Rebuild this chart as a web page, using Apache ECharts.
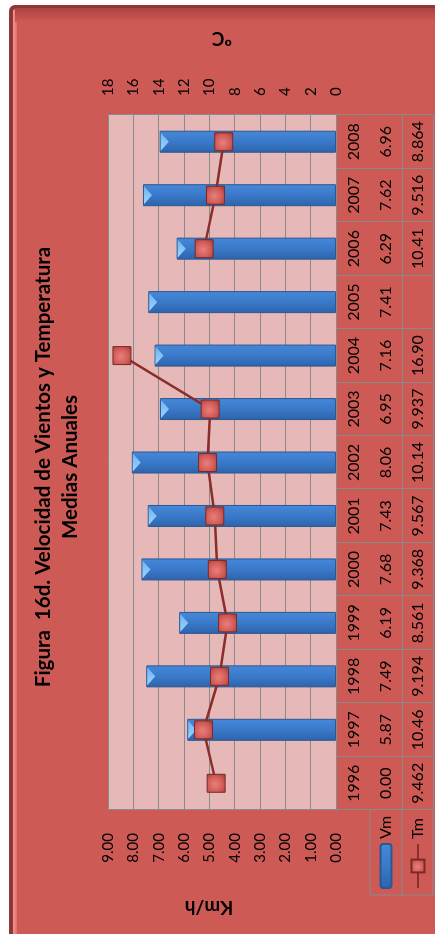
<!DOCTYPE html>
<html><head><meta charset="utf-8">
<script src="https://cdn.jsdelivr.net/npm/echarts@6/dist/echarts.min.js"></script>
<style>
html,body{margin:0;padding:0;background:#fff;overflow:hidden;width:435px;height:934px;}
#wrap{position:absolute;left:0;top:0;width:934px;height:435px;transform-origin:0 0;transform:translateY(934px) rotate(-90deg);}
#chart{width:934px;height:435px;}
</style></head><body>
<div id="wrap"><div id="chart"></div></div>
<script>
// ---- data ----
const years = ['1996','1997','1998','1999','2000','2001','2002','2003','2004','2005','2006','2007','2008'];
const vm = [0.00, 5.87, 7.49, 6.19, 7.68, 7.43, 8.06, 6.95, 7.16, 7.41, 6.29, 7.62, 6.96];
const tm = [9.462, 10.46, 9.194, 8.561, 9.368, 9.567, 10.14, 9.937, 16.90, null, 10.41, 9.516, 8.864];
const titleText = 'Figura  16d. Velocidad de Vientos y Temperatura\nMedias Anuales';
const leftAxisName = 'Km/h';
const rightAxisName = 'ºC';
const seriesNames = ['Vm', 'Tm'];

const FONT = 'Lato';
const GREY = '#8a8a8a';
const BG = '#ce5a56';

const chart = echarts.init(document.getElementById('chart'), null, {renderer: 'canvas'});
const G = echarts.graphic;

const barColor = new G.LinearGradient(0, 0, 1, 0, [
  {offset: 0, color: '#2d63aa'}, {offset: 0.5, color: '#3a79ca'}, {offset: 1, color: '#4788d8'}]);
const capColor = new G.LinearGradient(0, 0, 1, 0, [
  {offset: 0, color: '#6fb2ee'}, {offset: 1, color: '#9dd6ff'}]);
const markColor = new G.RadialGradient(0.45, 0.45, 0.7, [
  {offset: 0, color: '#ea7f7a'}, {offset: 0.6, color: '#d05a56'}, {offset: 1, color: '#a23c39'}]);

const tableAxis = (offset, tickLen, formatter, margin, showLabel) => ({
  type: 'category', data: years, position: 'bottom', offset: offset,
  axisLine: {show: true, lineStyle: {color: GREY, width: 1}},
  axisTick: {show: tickLen > 0, length: tickLen, interval: 0, alignWithLabel: false, lineStyle: {color: GREY, width: 1}},
  axisLabel: {show: showLabel, interval: 0, margin: margin, fontSize: 16, color: '#000', fontFamily: FONT, formatter: formatter},
  splitLine: {show: false}
});

chart.setOption({
  animation: false,
  backgroundColor: '#ffffff',
  title: {
    text: titleText, left: 'center', top: 30, padding: 0,
    textStyle: {fontSize: 20.5, fontWeight: 'bold', lineHeight: 27, color: '#000', fontFamily: FONT}
  },
  legend: [
    {data: [seriesNames[0]], left: 45, top: 378, padding: 0, itemWidth: 44, itemHeight: 11, selectedMode: false,
     textStyle: {fontSize: 16, color: '#000', fontFamily: FONT}},
    {data: [seriesNames[1]], left: 45, top: 410, padding: 0, itemWidth: 44, itemHeight: 16, selectedMode: false,
     textStyle: {fontSize: 16, color: '#000', fontFamily: FONT}}
  ],
  grid: {left: 124, right: 115, top: 108, bottom: 99, show: true, backgroundColor: '#e6b9b8', borderWidth: 0},
  xAxis: [
    tableAxis(0, 97, null, 10, true),
    tableAxis(34, 0, (v, i) => vm[i].toFixed(2), 8, true),
    tableAxis(66, 0, (v, i) => tm[i] == null ? '' : tm[i].toPrecision(4), 8, true),
    tableAxis(97, 0, null, 8, false)
  ],
  yAxis: [
    {type: 'value', position: 'left', min: 0, max: 9, interval: 1,
     name: leftAxisName, nameLocation: 'middle', nameGap: 88, nameRotate: 90,
     nameTextStyle: {fontSize: 19, fontWeight: 'bold', color: '#000', fontFamily: FONT, padding: [0, 0, 0, 26]},
     axisLine: {show: true, lineStyle: {color: GREY}}, axisTick: {show: false},
     axisLabel: {margin: 23, fontSize: 15, color: '#000', fontFamily: FONT, formatter: v => v.toFixed(2)},
     splitLine: {show: true, lineStyle: {color: GREY, width: 1}}},
    {type: 'value', position: 'right', min: 0, max: 18, interval: 2,
     name: rightAxisName, nameLocation: 'middle', nameGap: 67, nameRotate: 90,
     nameTextStyle: {fontSize: 19, fontWeight: 'bold', color: '#000', fontFamily: FONT},
     axisLine: {show: true, lineStyle: {color: GREY}}, axisTick: {show: false},
     axisLabel: {margin: 19, fontSize: 15, color: '#000', fontFamily: FONT},
     splitLine: {show: false}}
  ],
  graphic: [
    {type: 'rect', z: -10, silent: true, shape: {x: -6, y: 9, width: 935, height: 440, r: 6}, style: {fill: '#8c3836'}},
    {type: 'rect', z: -9, silent: true, shape: {x: -6, y: 13, width: 932, height: 430, r: 4}, style: {fill: BG}},
    {type: 'rect', z: -8, silent: true, shape: {x: -6, y: 13, width: 930, height: 4},
     style: {fill: new G.LinearGradient(0, 0, 0, 1, [{offset: 0, color: '#f39490'}, {offset: 1, color: '#e0706c'}])}},
    {type: 'rect', z: -8, silent: true, shape: {x: 912, y: 15, width: 14, height: 428},
     style: {fill: new G.LinearGradient(0, 0, 1, 0, [{offset: 0, color: BG}, {offset: 1, color: '#ad423f'}])}},
    {type: 'polyline', z: 5, silent: true, shape: {points: [[124, 370], [39, 370], [39, 433], [124, 433]]},
     style: {stroke: GREY, lineWidth: 1, fill: null}},
    {type: 'line', z: 5, silent: true, shape: {x1: 39, y1: 402, x2: 124, y2: 402}, style: {stroke: GREY, lineWidth: 1}}
  ],
  series: [
    {type: 'bar', name: seriesNames[0], xAxisIndex: 0, yAxisIndex: 0, barWidth: 22, z: 2,
     data: vm.map(v => ({value: v, itemStyle: {borderWidth: v > 0 ? 1 : 0}})),
     itemStyle: {color: barColor, borderColor: '#2a5893', borderWidth: 1}},
    {type: 'pictorialBar', name: 'cap', data: vm.map(v => v > 0 ? v : null), xAxisIndex: 0, yAxisIndex: 0,
     symbol: 'triangle', symbolRotate: 180, symbolSize: [18, 8], symbolPosition: 'end', symbolOffset: [0, 1], z: 3,
     itemStyle: {color: capColor}},
    {type: 'line', name: seriesNames[1], data: tm, xAxisIndex: 0, yAxisIndex: 1, connectNulls: false, z: 5,
     symbol: 'rect', symbolSize: 18,
     lineStyle: {color: '#8b2d2a', width: 2.5},
     itemStyle: {color: markColor, borderColor: '#7a2a28', borderWidth: 1}}
  ]
});
</script>
</body></html>
